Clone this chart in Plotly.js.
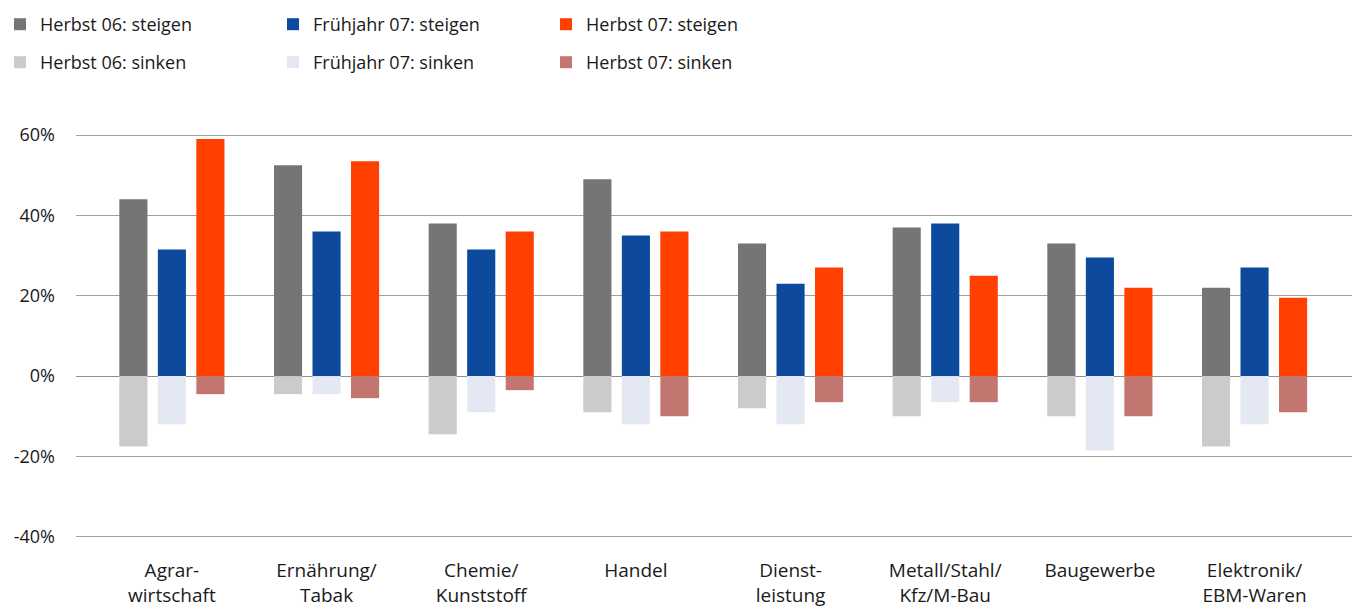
<!DOCTYPE html>
<html>
<head>
<meta charset="utf-8">
<script src="https://cdn.plot.ly/plotly-3.0.1.min.js"></script>
<style>html,body{margin:0;padding:0;background:#fff;}#chart{width:1355px;height:610px;}</style>
</head>
<body>
<div id="chart"></div>
<script>
const categories = ['Agrar-<br>wirtschaft', 'Ernährung/<br>Tabak', 'Chemie/<br>Kunststoff', 'Handel', 'Dienst-<br>leistung', 'Metall/Stahl/<br>Kfz/M-Bau', 'Baugewerbe', 'Elektronik/<br>EBM-Waren'];

const herbst06Steigen = [44, 52.5, 38, 49, 33, 37, 33, 22];
const fruehjahr07Steigen = [31.5, 36, 31.5, 35, 23, 38, 29.5, 27];
const herbst07Steigen = [59, 53.5, 36, 36, 27, 25, 22, 19.5];
const herbst06Sinken = [-17.5, -4.5, -14.5, -9, -8, -10, -10, -17.5];
const fruehjahr07Sinken = [-12, -4.5, -9, -12, -12, -6.5, -18.5, -12];
const herbst07Sinken = [-4.5, -5.5, -3.5, -10, -6.5, -6.5, -10, -9];

const seriesNames = ['Herbst 06: steigen', 'Frühjahr 07: steigen', 'Herbst 07: steigen', 'Herbst 06: sinken', 'Frühjahr 07: sinken', 'Herbst 07: sinken'];
const yTickValues = [-40, -20, 0, 20, 40, 60];
const yTickLabels = ['-40%', '-20%', '0%', '20%', '40%', '60%'];

const FONT = '"Open Sans", "Noto Sans", sans-serif';

function bar(name, values, color, group, legend) {
  return {
    type: 'bar', x: categories, y: values, name: name,
    marker: {color: color, line: {width: 0}},
    offsetgroup: group, legend: legend, hoverinfo: 'skip'
  };
}

const data = [
  bar(seriesNames[0], herbst06Steigen, '#757575', 'g1', 'legend'),
  bar(seriesNames[1], fruehjahr07Steigen, '#0d4a9e', 'g2', 'legend'),
  bar(seriesNames[2], herbst07Steigen, '#ff4000', 'g3', 'legend'),
  bar(seriesNames[3], herbst06Sinken, '#cbcbcb', 'g1', 'legend2'),
  bar(seriesNames[4], fruehjahr07Sinken, '#e4e8f2', 'g2', 'legend2'),
  bar(seriesNames[5], herbst07Sinken, '#c37670', 'g3', 'legend2')
];

const legendBase = {
  orientation: 'h', xref: 'container', yref: 'container',
  x: -0.004, xanchor: 'left', yanchor: 'top',
  font: {family: FONT, size: 18, color: '#1a1a1a'},
  entrywidth: 228, entrywidthmode: 'pixels',
  traceorder: 'normal', bgcolor: 'rgba(0,0,0,0)'
};

const layout = {
  width: 1355, height: 610,
  margin: {l: 76, r: 3, t: 133, b: 72},
  paper_bgcolor: '#ffffff', plot_bgcolor: '#ffffff',
  font: {family: FONT, color: '#1a1a1a'},
  barmode: 'group', bargap: 0.253, bargroupgap: 0.27,
  showlegend: true,
  legend: Object.assign({}, legendBase, {y: 1 - 6 / 610}),
  legend2: Object.assign({}, legendBase, {y: 1 - 44 / 610}),
  xaxis: {
    type: 'category', range: [-0.62, 7.63],
    showgrid: false, zeroline: false, showline: false, ticks: '',
    tickfont: {family: FONT, size: 19, color: '#1a1a1a'},
    ticklabelstandoff: 19, fixedrange: true
  },
  yaxis: {
    range: [-40.3, 60.5], tickmode: 'array', tickvals: yTickValues, ticktext: yTickLabels,
    showgrid: true, gridcolor: '#a0a0a0', gridwidth: 1,
    zeroline: true, zerolinecolor: '#8f8f8f', zerolinewidth: 1,
    showline: false, ticks: '',
    tickfont: {family: FONT, size: 18, color: '#1a1a1a'},
    ticklabelstandoff: 20, fixedrange: true
  }
};

Plotly.newPlot('chart', data, layout, {displayModeBar: false, staticPlot: true});
</script>
</body>
</html>
